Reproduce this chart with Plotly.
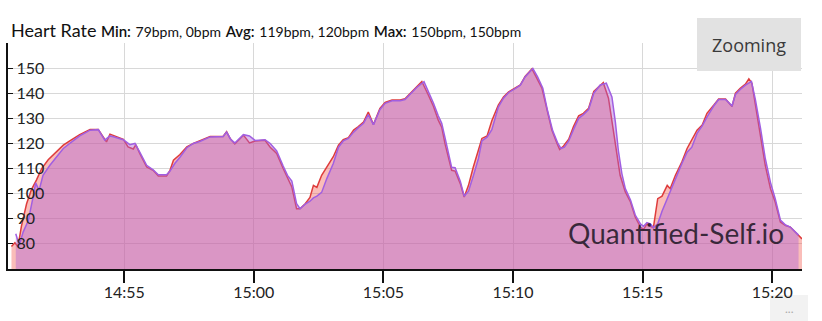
import pandas as pd
import plotly.graph_objects as go

# ---------------- data ----------------
BASE = "2024-01-01 14:50:00"

# seconds after 14:50:00 and heart-rate values (bpm), series 1 (red)
red_secs = [39, 47, 54, 62, 74, 85, 97, 109, 124, 143, 159, 174, 197, 221, 240, 259, 267, 285, 298, 309,
            321, 327, 336, 352, 367, 379, 398, 406, 414, 429, 445, 460, 475, 499, 529, 537, 545, 556, 576, 590,
            603, 626, 638, 653, 668, 678, 688, 699, 707, 719, 730, 738, 746, 757, 769, 784, 796, 807, 819, 831,
            842, 854, 865, 877, 892, 904, 920, 939, 950, 962, 977, 989, 1004, 1016, 1027, 1035, 1043, 1051, 1058, 1066,
            1078, 1087, 1097, 1108, 1120, 1128, 1140, 1151, 1166, 1178, 1190, 1205, 1217, 1228, 1244, 1255, 1267, 1279, 1290, 1302,
            1308, 1317, 1329, 1340, 1352, 1363, 1375, 1387, 1402, 1409, 1421, 1433, 1441, 1448, 1460, 1472, 1483, 1495, 1502, 1510,
            1518, 1525, 1535, 1545, 1557, 1564, 1576, 1591, 1603, 1614, 1626, 1638, 1649, 1665, 1676, 1692, 1707, 1715, 1726, 1738,
            1746, 1753, 1761, 1773, 1784, 1796, 1807, 1819, 1831, 1842, 1854, 1869]
red_bpm = [79, 80.5, 78.8, 87, 96, 101.5, 105.5, 110, 113.5, 116.7, 119.3, 121, 123.5, 125.6, 125.6, 120.6, 123.7, 122.5, 121.6, 118.6,
           117.8, 119.5, 116, 110.6, 109.3, 107, 107, 109.3, 113.3, 115.6, 118.6, 120, 121, 122.8, 122.8, 124.7, 122, 119.8, 123.3, 120.2,
           121, 121.3, 118.5, 116, 110, 106, 102.7, 94, 94, 96, 98.5, 103.3, 102.5, 107.3, 110.5, 114.7, 119.3, 121.5, 122.3, 125.3,
           126.7, 128.5, 132.5, 127.5, 134, 136.3, 137.3, 137.3, 137.8, 140, 142.7, 144.7, 139.3, 134.7, 129.3, 126.5, 119.6, 114, 109.3, 109,
           104, 98.7, 103.3, 110.5, 117, 122, 123, 129, 135.3, 138.5, 140.5, 142, 143.3, 146.7, 149.7, 146, 142, 133.3, 125.3, 120,
           117.6, 119, 121.7, 126.7, 131, 132, 134, 140.7, 143.3, 144.2, 138, 124.7, 115.3, 107.3, 100.7, 96.7, 90.7, 86.7, 85.7, 88,
           87, 86.5, 98, 99, 103.3, 102, 107.3, 112.7, 118, 121.3, 125.3, 127.3, 132, 135.3, 137.7, 137.7, 134.7, 140, 142, 143.6,
           145.7, 144, 135.3, 123.3, 111.3, 102, 96.7, 88.7, 87.3, 86.7, 84.7, 82]

# series 2 (purple)
purple_secs = [49, 57, 66, 78, 89, 95, 103, 112, 128, 143, 159, 174, 197, 221, 240, 255, 267, 275, 298, 313,
               325, 336, 352, 367, 379, 398, 406, 417, 429, 445, 460, 475, 499, 529, 537, 547, 556, 576, 590, 603,
               626, 638, 653, 668, 678, 688, 699, 707, 719, 730, 738, 746, 757, 769, 784, 796, 807, 819, 831, 842,
               854, 865, 877, 892, 904, 920, 939, 950, 962, 977, 994, 1004, 1016, 1027, 1035, 1043, 1051, 1058, 1066, 1078,
               1087, 1097, 1108, 1120, 1128, 1140, 1151, 1166, 1178, 1190, 1205, 1217, 1228, 1246, 1257, 1269, 1280, 1292, 1304, 1311,
               1319, 1329, 1340, 1352, 1363, 1375, 1387, 1402, 1416, 1421, 1429, 1437, 1444, 1452, 1460, 1472, 1483, 1495, 1502, 1510,
               1518, 1525, 1535, 1545, 1557, 1564, 1576, 1591, 1603, 1614, 1626, 1638, 1649, 1665, 1676, 1692, 1707, 1715, 1726, 1738,
               1752, 1761, 1773, 1784, 1796, 1807, 1819, 1831, 1842, 1854, 1861]
purple_bpm = [84, 79.5, 84.7, 89.3, 98.6, 104.3, 101.3, 107.3, 111.3, 114.6, 118, 120, 123, 125.3, 125.5, 121.3, 123, 122.7, 121.5, 119.5,
              120, 116.5, 111.3, 109.5, 107.5, 107.5, 109, 112, 114.5, 118.3, 120, 120.8, 122.6, 122.8, 124.5, 121.5, 120.2, 123.5, 123, 121.2,
              121.5, 120, 117, 111, 107.3, 105, 96, 94, 95.8, 97, 98.3, 99, 100.5, 106, 112, 118.5, 121, 122, 124.5, 126.3,
              128, 131.5, 127.5, 133.5, 136, 137, 137, 137.5, 139.5, 142.3, 144.6, 141, 136, 131, 128, 122, 116, 110.5, 110.3, 105,
              99, 101, 107, 114, 121, 122.5, 125.5, 134.5, 138, 140.3, 141.8, 143.2, 146.5, 149.8, 146.5, 142, 133, 125, 120, 118,
              118.5, 121, 125.5, 130, 131.5, 133.5, 140, 143.3, 144, 142, 138.5, 128.5, 117, 108, 102, 97.5, 91.5, 88, 87, 88.5,
              88, 86.5, 88, 93, 98, 101, 106.5, 112, 116.5, 118.5, 124, 127, 130.5, 135, 137.5, 137.5, 135, 139.5, 141.5, 143.2,
              144.7, 137.5, 126, 114, 104.5, 98, 89.5, 87.5, 86.7, 84.7, 83.5]

x_tick_times = ["14:55", "15:00", "15:05", "15:10", "15:15", "15:20"]
y_tick_vals = [80, 90, 100, 110, 120, 130, 140, 150, 160]
y_tick_text = ["80", "90", "100", "110", "120", "130", "140", "150", ""]
x_range = ["14:50:31", "15:21:09"]
y_range = [70, 160]

title_text = ("Heart Rate <span style='font-size:15px;font-weight:600'>Min:</span> "
              "<span style='font-size:14px'>79bpm, 0bpm</span> "
              "<span style='font-size:15px;font-weight:600'>Avg:</span> "
              "<span style='font-size:14px'>119bpm, 120bpm</span> "
              "<span style='font-size:15px;font-weight:600'>Max:</span> "
              "<span style='font-size:14px'>150bpm, 150bpm</span>")

# ---------------- figure ----------------
base = pd.Timestamp(BASE)
day = BASE.split(" ")[0]
red_x = base + pd.to_timedelta(red_secs, unit="s")
pur_x = base + pd.to_timedelta(purple_secs, unit="s")

FONT = "Lato"

fig = go.Figure()
fig.add_trace(go.Scatter(x=red_x, y=red_bpm, mode="lines", fill="tozeroy",
                         line=dict(color="rgb(222,60,60)", width=1.5),
                         fillcolor="rgba(242,90,80,0.40)", hoverinfo="skip"))
fig.add_trace(go.Scatter(x=pur_x, y=purple_bpm, mode="lines", fill="tozeroy",
                         line=dict(color="rgb(160,95,225)", width=1.5),
                         fillcolor="rgba(175,95,215,0.42)", hoverinfo="skip"))

fig.update_layout(
    width=822, height=321,
    margin=dict(l=8, r=20, t=43, b=52),
    paper_bgcolor="white", plot_bgcolor="white",
    showlegend=False,
    font=dict(family=FONT, color="#222"),
)
fig.update_xaxes(
    range=[f"{day} {x_range[0]}", f"{day} {x_range[1]}"],
    tickvals=[f"{day} {t}:00" for t in x_tick_times],
    ticktext=x_tick_times,
    showgrid=True, gridcolor="#d8d8d8", gridwidth=1,
    showline=True, linecolor="#111", linewidth=1.5,
    ticks="outside", ticklen=12, tickcolor="#111", tickwidth=1.5,
    ticklabelstandoff=-4,
    tickfont=dict(size=16, color="#222", family=FONT),
    zeroline=False,
)
fig.update_yaxes(
    range=y_range,
    tickvals=y_tick_vals, ticktext=y_tick_text,
    showgrid=True, gridcolor="#d8d8d8", gridwidth=1,
    showline=True, linecolor="#111", linewidth=1.5,
    ticks="inside", ticklen=5, tickcolor="#111",
    ticklabelposition="inside", ticklabelstandoff=4,
    tickfont=dict(size=16, color="#222", family=FONT),
    zeroline=False,
)


def px_x(p):
    return (p - 8) / 794


def px_y(p):
    return (269 - p) / 226


# title
fig.add_annotation(text=title_text, xref="paper", yref="paper",
                   x=px_x(9), y=1.0, xanchor="left", yanchor="bottom",
                   showarrow=False, font=dict(size=18, color="#111", family=FONT))

# Zooming button
fig.add_shape(type="rect", xref="paper", yref="paper",
              x0=px_x(697), x1=px_x(801), y0=px_y(71), y1=px_y(18),
              fillcolor="#e2e2e2", line=dict(width=0), layer="above")
fig.add_annotation(text="Zooming", xref="paper", yref="paper",
                   x=px_x(749), y=px_y(45), xanchor="center", yanchor="middle",
                   showarrow=False,
                   font=dict(size=18, color="#3a3a3a", family="Open Sans"))

# watermark
fig.add_annotation(text="Quantified-Self.io", xref="paper", yref="paper",
                   x=px_x(676), y=px_y(233), xanchor="center", yanchor="middle",
                   showarrow=False,
                   font=dict(size=28, color="rgba(35,25,40,0.88)", family=FONT))

# axis title (mostly cut by bottom edge)
fig.add_annotation(text="Time", xref="paper", yref="paper",
                   x=px_x(405), y=px_y(314), xanchor="center", yanchor="top",
                   showarrow=False, font=dict(size=16, color="#222", family=FONT))

# "..." menu button bottom right
fig.add_shape(type="rect", xref="paper", yref="paper",
              x0=px_x(770), x1=px_x(808), y0=px_y(330), y1=px_y(295),
              fillcolor="#f2f2f2", line=dict(width=0), layer="below")
fig.add_annotation(text="...", xref="paper", yref="paper",
                   x=px_x(789), y=px_y(308), xanchor="center", yanchor="middle",
                   showarrow=False,
                   font=dict(size=12, color="#aaa", family=FONT))

fig.write_html("out.html", config={"displayModeBar": False})
